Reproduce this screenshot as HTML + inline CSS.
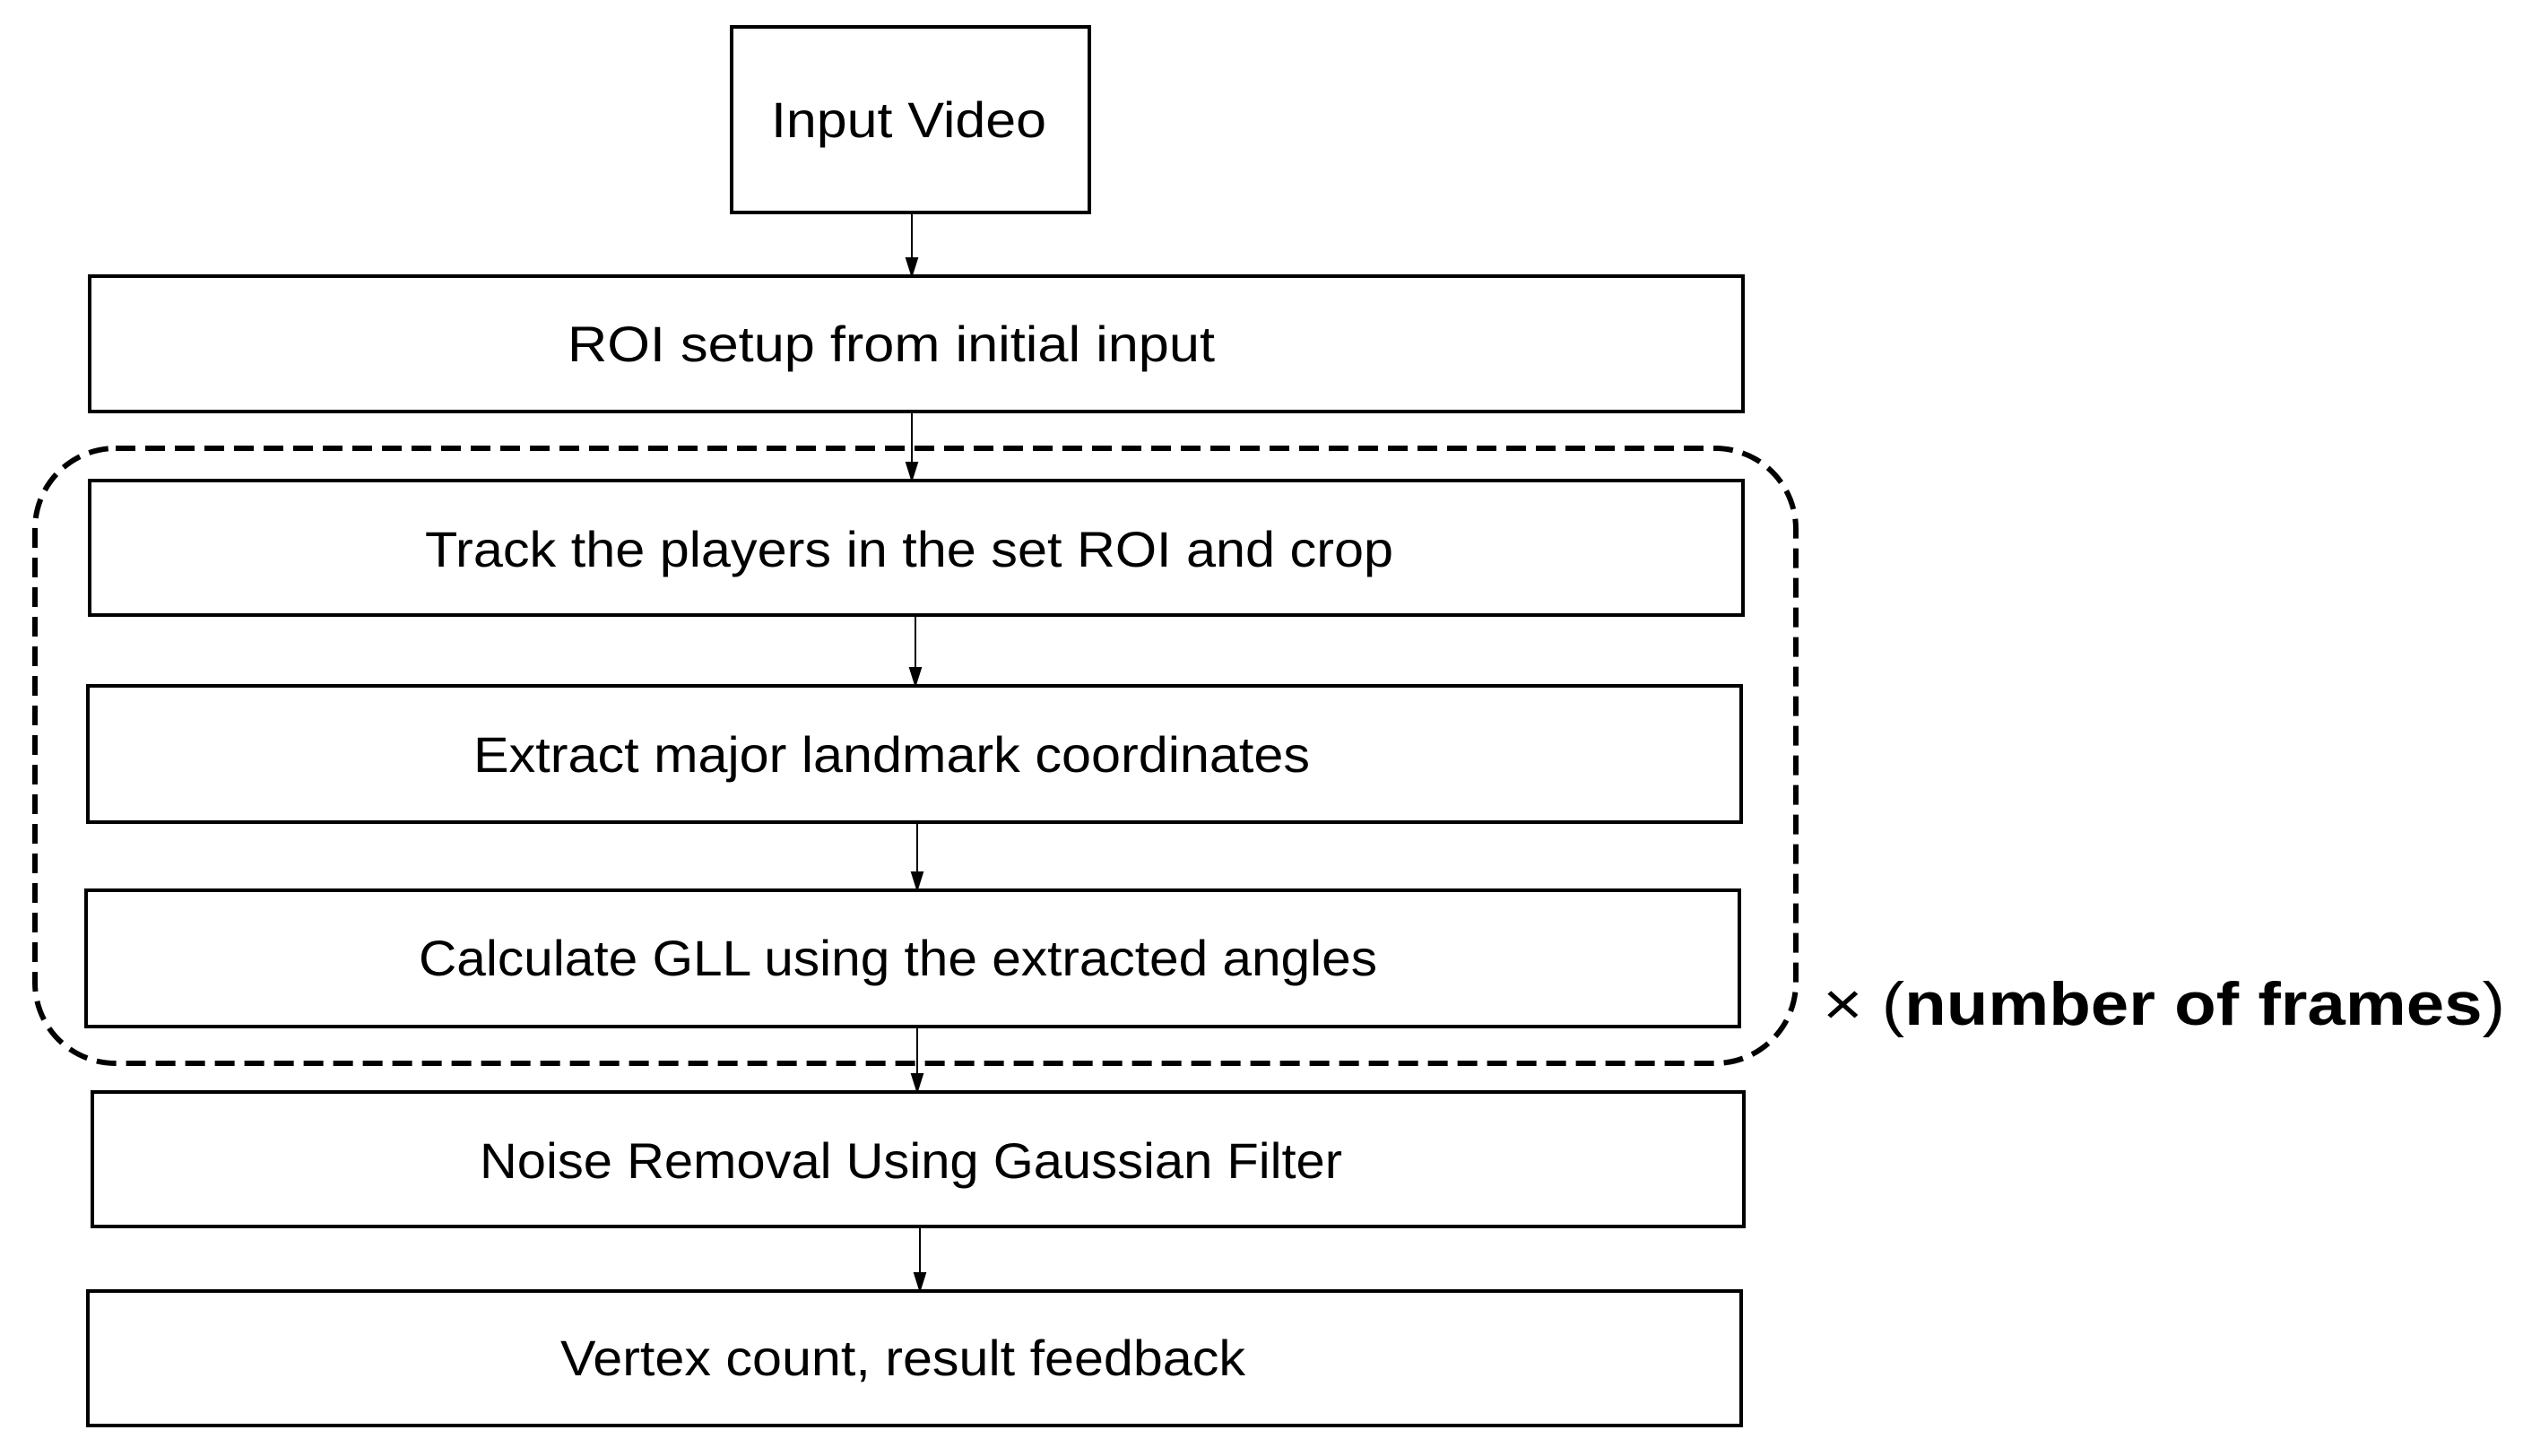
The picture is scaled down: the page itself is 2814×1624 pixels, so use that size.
<!DOCTYPE html>
<html><head><style>
html,body{margin:0;padding:0;background:#fff;}
svg{display:block;}
text{font-family:"Liberation Sans",sans-serif;fill:#000;}
</style></head><body>
<svg width="2814" height="1624" viewBox="0 0 2814 1624" xmlns="http://www.w3.org/2000/svg">
<g fill="none" stroke="#000" stroke-width="4">
<rect x="816" y="30" width="399" height="207"/>
<rect x="100" y="308" width="1844" height="151"/>
<rect x="100" y="536" width="1844" height="150"/>
<rect x="98" y="765" width="1844" height="152"/>
<rect x="96" y="993" width="1844" height="152"/>
<rect x="103" y="1218" width="1842" height="150"/>
<rect x="98" y="1440" width="1844" height="150"/>
<rect x="39" y="500" width="1964" height="686" rx="90" ry="90" stroke-width="6" stroke-dasharray="22,11"/>
</g>
<g stroke="#000" stroke-width="2" fill="#000">
<line x1="1017" y1="237" x2="1017" y2="296"/><path d="M1011,288 L1023,288 L1017,307 Z"/>
<line x1="1017" y1="461" x2="1017" y2="524"/><path d="M1011,516 L1023,516 L1017,535 Z"/>
<line x1="1021" y1="688" x2="1021" y2="753"/><path d="M1015,745 L1027,745 L1021,764 Z"/>
<line x1="1023" y1="919" x2="1023" y2="981"/><path d="M1017,973 L1029,973 L1023,992 Z"/>
<line x1="1023" y1="1147" x2="1023" y2="1206"/><path d="M1017,1198 L1029,1198 L1023,1217 Z"/>
<line x1="1026" y1="1370" x2="1026" y2="1428"/><path d="M1020,1420 L1032,1420 L1026,1439 Z"/>
</g>
<g font-size="56" lengthAdjust="spacingAndGlyphs">
<text x="860" y="153" textLength="307" lengthAdjust="spacingAndGlyphs">Input Video</text>
<text x="633" y="403" textLength="722" lengthAdjust="spacingAndGlyphs">ROI setup from initial input</text>
<text x="474" y="632" textLength="1080" lengthAdjust="spacingAndGlyphs">Track the players in the set ROI and crop</text>
<text x="528" y="861" textLength="933" lengthAdjust="spacingAndGlyphs">Extract major landmark coordinates</text>
<text x="467" y="1088" textLength="1069" lengthAdjust="spacingAndGlyphs">Calculate GLL using the extracted angles</text>
<text x="535" y="1314" textLength="962" lengthAdjust="spacingAndGlyphs">Noise Removal Using Gaussian Filter</text>
<text x="625" y="1534" textLength="764" lengthAdjust="spacingAndGlyphs">Vertex count, result feedback</text>
</g>
<text x="2033" y="1143" font-size="68" textLength="761" lengthAdjust="spacingAndGlyphs">× (<tspan font-weight="bold">number of frames</tspan>)</text>
</svg>
</body></html>
